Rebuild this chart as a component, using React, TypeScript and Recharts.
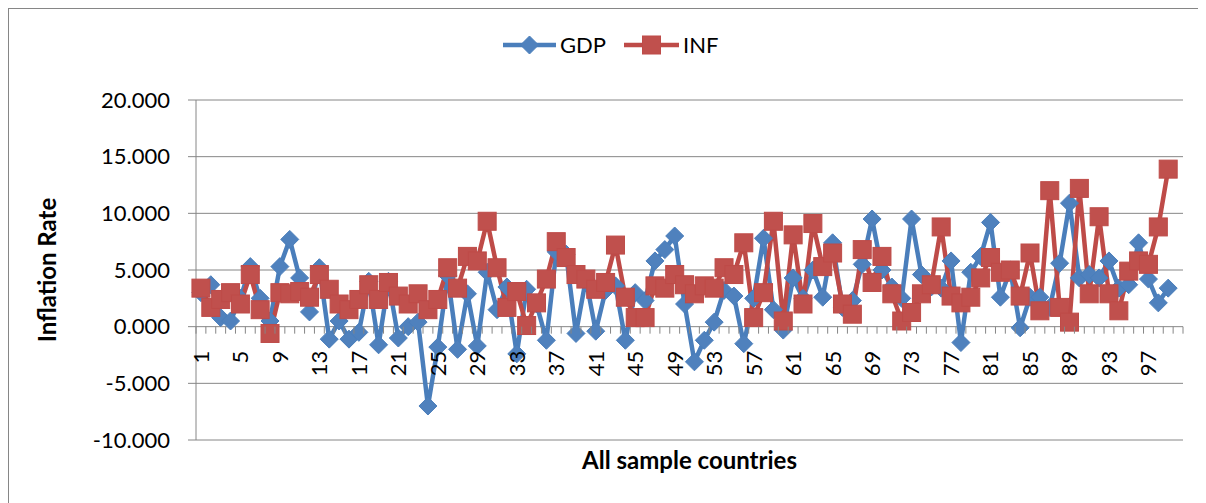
import { LineChart, Line, XAxis, YAxis, CartesianGrid, Legend } from 'recharts';

// countries 1..100 (last category has no data)
const CATS = [
  1, 2, 3, 4, 5, 6, 7, 8, 9, 10, 11, 12, 13, 14, 15, 16, 17, 18, 19, 20,
  21, 22, 23, 24, 25, 26, 27, 28, 29, 30, 31, 32, 33, 34, 35, 36, 37, 38, 39, 40,
  41, 42, 43, 44, 45, 46, 47, 48, 49, 50, 51, 52, 53, 54, 55, 56, 57, 58, 59, 60,
  61, 62, 63, 64, 65, 66, 67, 68, 69, 70, 71, 72, 73, 74, 75, 76, 77, 78, 79, 80,
  81, 82, 83, 84, 85, 86, 87, 88, 89, 90, 91, 92, 93, 94, 95, 96, 97, 98, 99, 100,
];

const GDP = [
  3.0, 3.7, 0.8, 0.5, 2.5, 5.3, 2.5, 0.5, 5.3, 7.7,
  4.3, 1.3, 5.2, -1.1, 0.5, -1.1, -0.5, 4.0, -1.6, 4.0,
  -1.0, 0.0, 0.4, -7.0, -1.8, 4.5, -2.0, 2.9, -1.7, 4.8,
  1.5, 3.5, -2.4, 3.3, 2.0, -1.2, 6.6, 6.4, -0.6, 4.2,
  -0.4, 3.2, 3.6, -1.2, 3.0, 2.3, 5.8, 6.8, 8.0, 2.0,
  -3.1, -1.2, 0.4, 3.2, 2.7, -1.5, 2.5, 7.8, 1.5, -0.3,
  4.3, 2.5, 5.0, 2.6, 7.4, 1.7, 2.3, 5.5, 9.5, 5.0,
  3.5, 2.5, 9.5, 4.6, 3.5, 3.4, 5.8, -1.4, 4.8, 6.2,
  9.2, 2.6, 5.0, -0.1, 2.6, 2.6, 1.7, 5.6, 10.9, 4.3,
  4.6, 4.3, 5.8, 3.4, 3.7, 7.4, 4.2, 2.1, 3.4, null,
];

const INF = [
  3.4, 1.7, 2.4, 3.0, 2.0, 4.6, 1.5, -0.6, 3.0, 2.9,
  3.1, 2.6, 4.6, 3.3, 2.0, 1.5, 2.4, 3.7, 2.4, 3.9,
  2.7, 2.0, 2.9, 1.5, 2.4, 5.2, 3.4, 6.2, 5.8, 9.3,
  5.2, 1.7, 3.1, 0.1, 2.1, 4.2, 7.5, 6.1, 4.6, 4.2,
  3.3, 3.9, 7.2, 2.6, 0.8, 0.8, 3.6, 3.4, 4.6, 3.7,
  2.9, 3.6, 3.4, 5.2, 4.6, 7.4, 0.8, 3.0, 9.3, 0.5,
  8.1, 2.0, 9.1, 5.3, 6.5, 2.0, 1.1, 6.8, 3.9, 6.2,
  2.9, 0.5, 1.25, 2.9, 3.7, 8.8, 2.7, 2.1, 2.6, 4.3,
  6.1, 4.8, 5.0, 2.7, 6.5, 1.4, 12.0, 1.7, 0.4, 12.2,
  2.9, 9.7, 2.9, 1.4, 4.9, 5.8, 5.5, 8.8, 13.9, null,
];

const Y_TICKS = [-10, -5, 0, 5, 10, 15, 20];

const data = CATS.map((c, i) => ({ cat: c, gdp: GDP[i], inf: INF[i] }));

const FONT = 'Lato, "Open Sans", sans-serif';
const GRID = '#868686';
const BLUE = '#4A7EBB';
const BLUE_FILL = '#4F81BD';
const RED = '#BE4B48';
const RED_FILL = '#C0504D';

const PLOT_TOP = 91;
const PLOT_H = 340;
const PLOT_W = 987;
const BAND = PLOT_W / CATS.length;
const ZERO_Y = PLOT_TOP + (PLOT_H * 20) / 30;

function Diamond({ cx, cy, r = 9 }: { cx: number; cy: number; r?: number }) {
  return (
    <polygon
      points={`${cx},${cy - r} ${cx + r},${cy} ${cx},${cy + r} ${cx - r},${cy}`}
      fill={BLUE_FILL}
      stroke={BLUE}
      strokeWidth={1}
    />
  );
}

function Square({ cx, cy, s = 18 }: { cx: number; cy: number; s?: number }) {
  return <rect x={cx - s / 2} y={cy - s / 2} width={s} height={s} fill={RED_FILL} stroke={RED} strokeWidth={1} />;
}

function gdpDot(props: any) {
  const { cx, cy, index } = props;
  if (cx == null || cy == null || props.value == null) return <g key={`g${index}`} />;
  return (
    <g key={`g${index}`}>
      <Diamond cx={cx} cy={cy} />
    </g>
  );
}

function infDot(props: any) {
  const { cx, cy, index } = props;
  if (cx == null || cy == null || props.value == null) return <g key={`i${index}`} />;
  return (
    <g key={`i${index}`}>
      <Square cx={cx} cy={cy} />
    </g>
  );
}

function XTick(props: any) {
  const { x, index, payload } = props;
  const half = BAND / 2;
  return (
    <g>
      <line x1={x - half} x2={x - half} y1={ZERO_Y} y2={ZERO_Y + 7} stroke={GRID} />
      {index === CATS.length - 1 && <line x1={x + half} x2={x + half} y1={ZERO_Y} y2={ZERO_Y + 7} stroke={GRID} />}
      {index % 4 === 0 && (
        <text
          transform={`translate(${x},${ZERO_Y + 24}) rotate(-90)`}
          textAnchor="end"
          dy="0.36em"
          fontSize={22}
          fontFamily={FONT}
          fill="#000"
        >
          {payload.value}
        </text>
      )}
    </g>
  );
}

function LegendBox() {
  return (
    <svg width={240} height={40} style={{ display: 'block', margin: '0 auto', position: 'relative', left: 17 }}>
      <line x1={0} x2={53} y1={20} y2={20} stroke={BLUE} strokeWidth={4.5} />
      <Diamond cx={26.5} cy={20} />
      <text x={57} y={20} dy="0.36em" fontSize={22} fontFamily={FONT} fill="#000">GDP</text>
      <line x1={121} x2={176} y1={20} y2={20} stroke={RED} strokeWidth={4.5} />
      <Square cx={148.5} cy={20} />
      <text x={180} y={20} dy="0.36em" fontSize={22} fontFamily={FONT} fill="#000">INF</text>
    </svg>
  );
}

export default function App() {
  return (
    <div style={{ width: 1190, height: 494, border: `1px solid ${GRID}`, background: '#fff' }}>
      <LineChart
        width={1190}
        height={494}
        data={data}
        margin={{ top: 51, right: 16, bottom: 23, left: 20 }}
        style={{ fontFamily: FONT }}
      >
        <Legend verticalAlign="top" content={() => <LegendBox />} wrapperStyle={{ top: 16 }} />
        <CartesianGrid vertical={false} stroke={GRID} strokeWidth={1} />
        <XAxis
          dataKey="cat"
          interval={0}
          axisLine={false}
          tickLine={false}
          height={40}
          padding={{ left: BAND / 2, right: BAND / 2 }}
          tick={<XTick />}
          label={{
            value: 'All sample countries',
            position: 'insideBottom',
            offset: 11,
            style: { fontSize: 24, fontWeight: 700, fill: '#000', fontFamily: FONT },
          }}
        />
        <YAxis
          width={167}
          domain={[-10, 20]}
          ticks={Y_TICKS}
          interval={0}
          tickFormatter={(v: number) => v.toFixed(3)}
          axisLine={{ stroke: GRID }}
          tickLine={{ stroke: GRID }}
          tickSize={8}
          tickMargin={18}
          tick={{ fontSize: 22, fill: '#000', fontFamily: FONT }}
          label={{
            value: 'Inflation Rate',
            angle: -90,
            position: 'insideLeft',
            offset: 18,
            style: { fontSize: 24, fontWeight: 700, fill: '#000', fontFamily: FONT, textAnchor: 'middle' },
          }}
        />
        <Line
          type="linear"
          dataKey="gdp"
          stroke={BLUE}
          strokeWidth={4.5}
          dot={gdpDot}
          activeDot={false}
          isAnimationActive={false}
        />
        <Line
          type="linear"
          dataKey="inf"
          stroke={RED}
          strokeWidth={4.5}
          dot={infDot}
          activeDot={false}
          isAnimationActive={false}
        />
      </LineChart>
    </div>
  );
}
